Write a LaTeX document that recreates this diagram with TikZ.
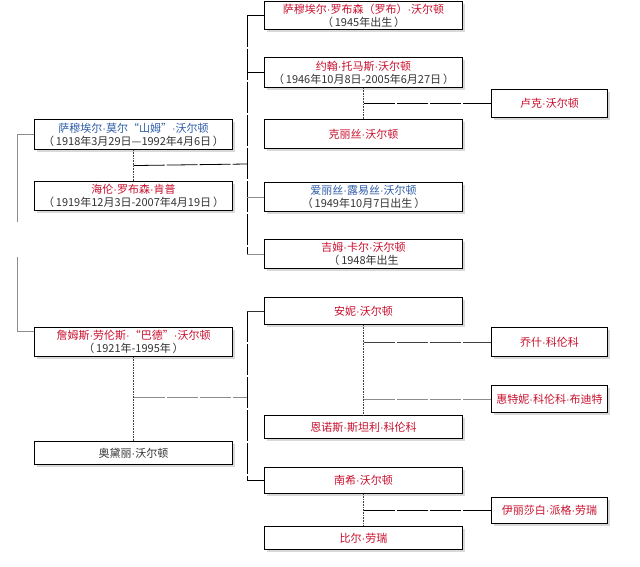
\documentclass[tikz,border=0pt]{standalone}
\usepackage{fontspec}
\setmainfont{Noto Sans CJK SC}
\newfontfamily\dotfont{Liberation Sans}
\newcommand\mdot{{\dotfont ·}}
\usetikzlibrary{shadows,calc}
\definecolor{namered}{HTML}{C8102E}
\definecolor{nameblue}{HTML}{2F5DA8}
\definecolor{dategray}{HTML}{333333}
\definecolor{linegray}{HTML}{8C8C8C}
\tikzset{
  person/.style={draw=black,line width=1.1pt,fill=white,align=center,inner sep=0pt,anchor=north west,
    minimum width=198pt,minimum height=#1,text=dategray,font=\fontsize{11}{13}\selectfont,
    drop shadow={shadow xshift=2pt,shadow yshift=-2pt,opacity=0.3}},
  person/.default=29pt,
  spouse/.style={person=#1,minimum width=116pt},
  couple/.style={densely dotted,line width=0.6pt,draw=black!75},
  link/.style={line width=0.8pt,dash pattern=on 31pt off 2pt},
}
\begin{document}
\begin{tikzpicture}[x=1pt,y=-1pt,line cap=butt]
	\useasboundingbox (0,0) rectangle (640,567);
	% first generation
	\node[person=30pt] (sam) at (34,119) {\textcolor{nameblue}{萨穆埃尔\mdot 莫尔“山姆”\mdot 沃尔顿}\\（\,1918年3月29日—1992年4月6日\,）};
	\node[person] (helen) at (34,181) {\textcolor{namered}{海伦\mdot 罗布森\mdot 肯普}\\（\,1919年12月3日-2007年4月19日\,）};
	\node[person] (bud) at (34,327) {\textcolor{namered}{詹姆斯\mdot 劳伦斯\mdot “巴德”\mdot 沃尔顿}\\（\,1921年-1995年\,）};
	\node[person=23pt] (audrey) at (34,441) {奥黛丽\mdot 沃尔顿};
	% second generation
	\node[person=28pt] (robson) at (264,1) {\textcolor{namered}{萨穆埃尔\mdot 罗布森（罗布）\mdot 沃尔顿}\\（\,1945年出生\,）};
	\node[person=30pt] (john) at (264,57) {\textcolor{namered}{约翰\mdot 托马斯\mdot 沃尔顿}\\（\,1946年10月8日-2005年6月27日\,）};
	\node[person] (kristy) at (264,119) {\textcolor{namered}{克丽丝\mdot 沃尔顿}};
	\node[person] (alice) at (264,182) {\textcolor{nameblue}{爱丽丝\mdot 露易丝\mdot 沃尔顿}\\（\,1949年10月7日出生\,）};
	\node[person] (jim) at (264,239) {\textcolor{namered}{吉姆\mdot 卡尔\mdot 沃尔顿}\\（\,1948年出生};
	\node[person=27pt] (annie) at (264,297) {\textcolor{namered}{安妮\mdot 沃尔顿}};
	\node[person=23pt] (ennis) at (264,415) {\textcolor{namered}{恩诺斯\mdot 斯坦利\mdot 科伦科}};
	\node[person=26pt] (nancy) at (264,467) {\textcolor{namered}{南希\mdot 沃尔顿}};
	\node[person=23pt] (bill) at (264,526) {\textcolor{namered}{比尔\mdot 劳瑞}};
	% third generation
	\node[spouse=28pt] (luke) at (491,89) {\textcolor{namered}{卢克\mdot 沃尔顿}};
	\node[spouse=29pt] (joe) at (491,327) {\textcolor{namered}{乔什\mdot 科伦科}};
	\node[spouse=27pt] (whitney) at (491,385) {\textcolor{namered}{惠特妮\mdot 科伦科\mdot 布迪特}};
	\node[spouse=26pt] (elizabeth) at (491,497) {\textcolor{namered}{伊丽莎白\mdot 派格\mdot 劳瑞}};
	% siblings sam and bud
	\coordinate (sibtop) at (17,134);
	\coordinate (sibbot) at (17,331);
	\draw[link,linegray,dash pattern=on 104pt off 35pt] (sam.west) -- (sam.west -| sibtop) -- (sibbot) -- ([yshift=-4pt]bud.north west);
	% couples
	\draw[couple] (sam.south) -- (helen.north);
	\draw[couple] (john.south) -- (kristy.north);
	\draw[couple] (bud.south) -- (audrey.north);
	\draw[couple] (annie.south) -- (ennis.north);
	\draw[couple] (nancy.south) -- (bill.north);
	% children of sam and helen
	\coordinate (samkids) at (247,164);
	\draw[link] ($(sam.south)!0.5!(helen.north)$) -- (samkids);
	\draw[link] (robson.west -| samkids) -- (jim.west -| samkids);
	\draw[link] (robson.west -| samkids) -- (robson.west);
	\draw[link] (john.west -| samkids) -- (john.west);
	\draw[link,linegray] (alice.west -| samkids) -- (alice.west);
	\draw[link,linegray] (jim.west -| samkids) -- (jim.west);
	\draw[link] ($(john.south)!0.5!(kristy.north)$ |- luke.west) -- (luke.west);
	% children of bud and audrey
	\coordinate (budkids) at (247,397);
	\draw[link,linegray] (bud.south |- budkids) -- (budkids);
	\draw[link] (annie.west -| budkids) -- (nancy.west -| budkids);
	\draw[link,black!80] (annie.west -| budkids) -- (annie.west);
	\draw[link] (nancy.west -| budkids) -- (nancy.west);
	\draw[link,black!75] (annie.south |- joe.west) -- (joe.west);
	\draw[link,linegray] (annie.south |- whitney.west) -- (whitney.west);
	\draw[link] (nancy.south |- elizabeth.west) -- (elizabeth.west);
\end{tikzpicture}
\end{document}
